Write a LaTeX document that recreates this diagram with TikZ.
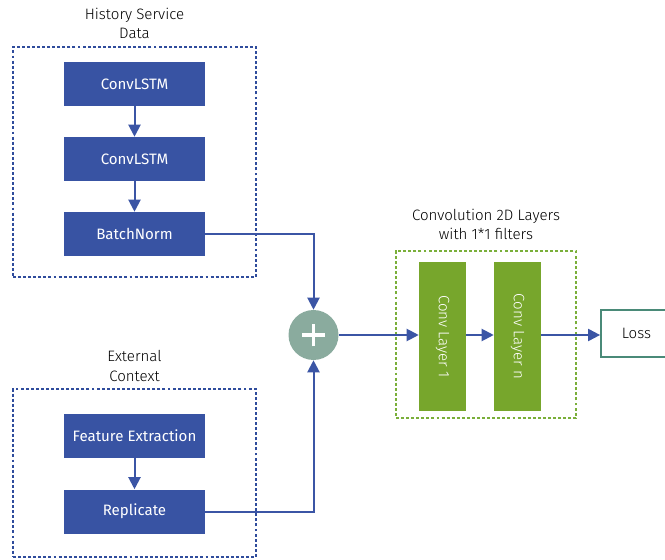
\documentclass[tikz,border=0pt]{standalone}
\usepackage{fontspec}
\setmainfont{Fira Sans}
\newfontfamily\lightfont{Fira Sans Light}
\usetikzlibrary{arrows.meta,positioning}
\definecolor{boxblue}{HTML}{3853A3}
\definecolor{lineblue}{HTML}{3B55A5}
\definecolor{dashblue}{HTML}{2F4C9C}
\definecolor{convgreen}{HTML}{77A62C}
\definecolor{dashgreen}{HTML}{7AAF3A}
\definecolor{plusgray}{HTML}{8AAB9E}
\definecolor{lossgreen}{HTML}{4A8A78}
\begin{document}
\begin{tikzpicture}[x=0.75pt,y=-0.75pt,
  bluebox/.style={draw=none,fill=boxblue,text=white,minimum width=105.75pt,minimum height=33pt,inner sep=0pt,font=\fontsize{11.3}{12}\selectfont},
  convbox/.style={draw=none,fill=convgreen,text=white,minimum width=35.25pt,minimum height=111.75pt,inner sep=0pt,font=\fontsize{11.3}{12}\selectfont},
  grpblue/.style={draw=dashblue,line width=1.5pt,dash pattern=on 2.2pt off 1.6pt},
  grpgreen/.style={draw=dashgreen,line width=1.3pt,dash pattern=on 2.2pt off 1.6pt},
  title/.style={align=center,font=\lightfont\fontsize{11.3}{14.5}\selectfont,inner sep=0pt},
  conn/.style={draw=lineblue,line width=1.5pt,-{Triangle[length=9pt,width=9pt]}},
  link/.style={draw=lineblue,line width=1.5pt}
]
\useasboundingbox (0,0) rectangle (665,560);
\clip (0,0) rectangle (665,560);
% group boxes
\node[grpblue,minimum width=182.25pt,minimum height=172.5pt,inner sep=0pt] (g1) at (134.5,162) {};
\node[grpblue,minimum width=182.25pt,minimum height=126pt,inner sep=0pt] (g2) at (134.5,473) {};
\node[grpgreen,minimum width=135pt,minimum height=125.25pt,inner sep=0pt] (g3) at (486,334.5) {};
% titles
\node[title] (t1) at (134.5,23.5) {History Service\\Data};
\node[title] (t2) at (134.5,366) {External\\Context};
\node[title] (t3) at (486,224.5) {Convolution 2D Layers\\with 1*1 filters};
% blue boxes
\node[bluebox] (c1) at (134.5,84) {ConvLSTM};
\node[bluebox] (c2) at (134.5,159) {ConvLSTM};
\node[bluebox] (bn) at (134.5,234) {BatchNorm};
\node[bluebox] (fe) at (134.5,436) {Feature Extraction};
\node[bluebox] (rp) at (134.5,511.5) {Replicate};
% plus
\node[circle,fill=plusgray,minimum size=37.5pt,inner sep=0pt] (pl) at (313.5,335) {};
\draw[white,line width=2.4pt] ([xshift=-8.5pt]pl.center) -- ([xshift=8.5pt]pl.center);
\draw[white,line width=2.4pt] ([yshift=-8.5pt]pl.center) -- ([yshift=8.5pt]pl.center);
% conv layers
\node[convbox] (cv1) at (442.5,336.5) {\rotatebox{-90}{\lightfont Conv Layer 1}};
\node[convbox] (cvn) at (517.5,336.5) {\rotatebox{-90}{\lightfont Conv Layer n}};
% loss
\node[draw=lossgreen,line width=1.3pt,fill=white,minimum width=60pt,minimum height=35.25pt,inner sep=0pt] (loss) at (641,333.5) {};
\node[font=\lightfont\fontsize{11.3}{12}\selectfont,inner sep=0pt] (losst) at (636.5,333.5) {Loss};
% connectors
\draw[conn] (c1) -- (c2);
\draw[conn] (c2) -- (bn);
\draw[conn] (fe) -- (rp);
\draw[conn] (bn.east) -| (pl.north);
\draw[conn] (rp.east) -| (pl.south);
\draw[conn] (pl.east) -- (pl.east -| cv1.west);
\draw[conn] (cv1.east |- pl.east) -- (pl.east -| cvn.west);
\draw[conn] (cvn.east |- pl.east) -- (pl.east -| loss.west);
\end{tikzpicture}
\end{document}
